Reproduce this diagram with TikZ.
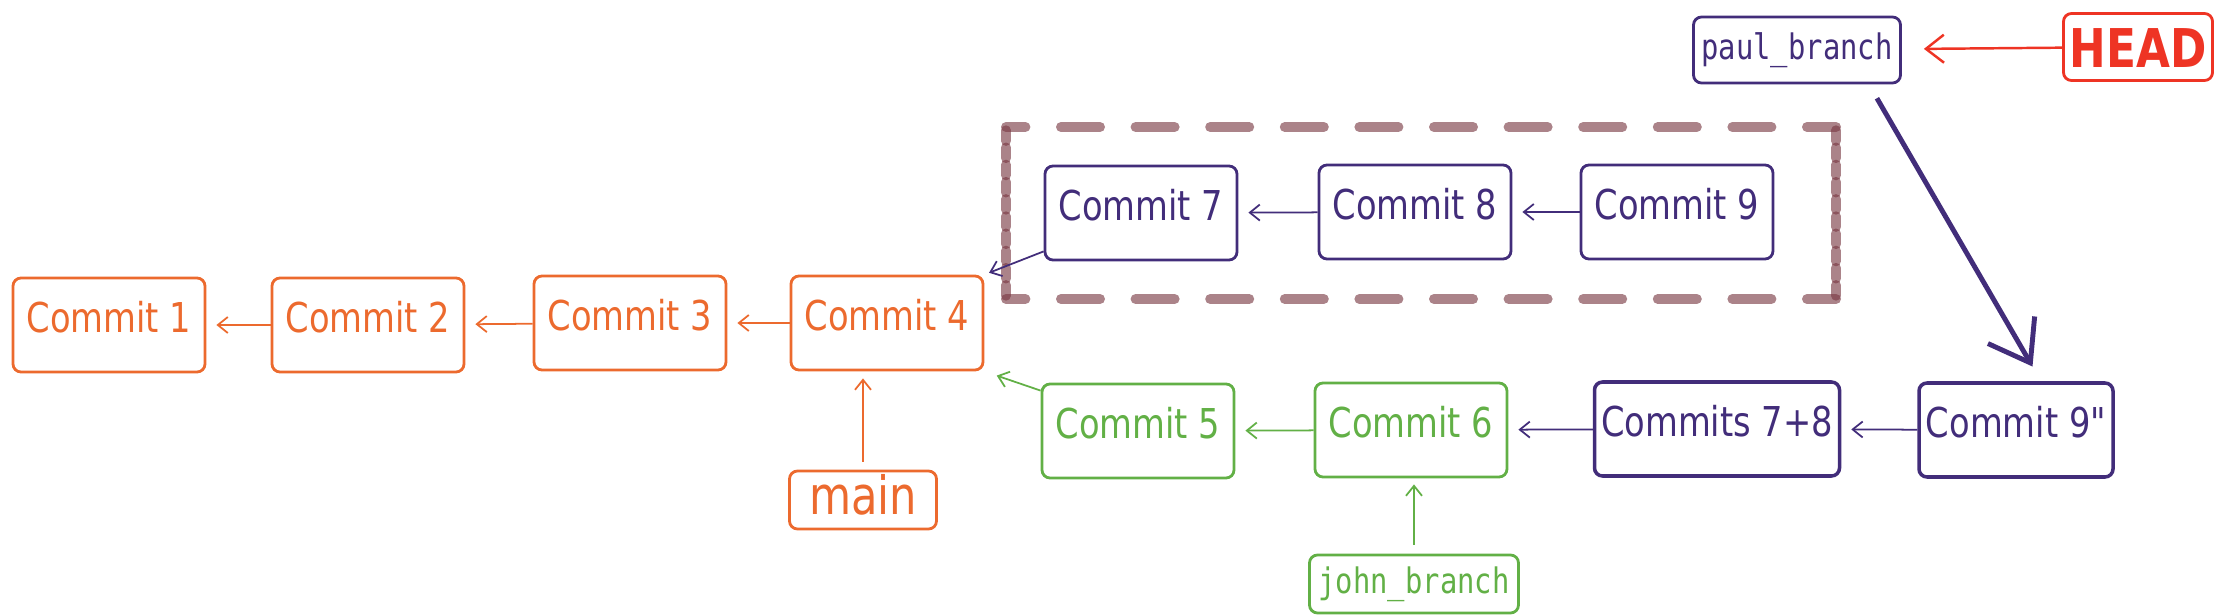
\documentclass[tikz,border=0pt]{standalone}
\usepackage{fontspec}
\newfontfamily\gitfont{DejaVu Sans}[FakeStretch=0.82]
\newfontfamily\branchfont{DejaVu Sans Mono}[FakeStretch=0.82]
\usepackage{xcolor}
\usetikzlibrary{arrows.meta, calc}
\definecolor{gitorange}{RGB}{236,106,46}
\definecolor{gitgreen}{RGB}{98,176,70}
\definecolor{gitpurple}{RGB}{66,45,122}
\definecolor{gitred}{RGB}{238,52,36}
\definecolor{framebrown}{RGB}{120,55,65}

\begin{document}
\begin{tikzpicture}[
  tag/.style={draw, rounded corners=0.8mm, line width=0.8pt, inner sep=0pt},
  commit/.style={tag, minimum width=1.92cm, minimum height=0.94cm,
                 text height=0.30cm, text depth=0.16cm, font=\gitfont\fontsize{11.7}{14}\selectfont},
  branch/.style={tag, minimum width=2.08cm, minimum height=0.62cm,
                 font=\branchfont\fontsize{10}{12}\selectfont},
  link/.style={-{Straight Barb[length=1mm, width=1.6mm]}, line width=0.5pt, shorten >=1mm},
  frameline/.style={line width=0.1cm, draw=framebrown, opacity=0.62, line cap=round}
]
  \useasboundingbox (0,0) rectangle (22.19,-6.15);
  \draw[frameline, dash pattern=on 0.39cm off 0.356cm, dash phase=0.196cm] (10.06,-1.27) -- (18.36,-1.27);
  \draw[frameline, dash pattern=on 0.39cm off 0.356cm, dash phase=0.196cm] (10.06,-2.99) -- (18.36,-2.99);
  \foreach \k in {0,...,9} {
    \draw[frameline] (10.06,{-1.303-0.172*\k}) -- ++(0,-0.106);
    \draw[frameline] (18.36,{-1.303-0.172*\k}) -- ++(0,-0.106);
  }
  \node[commit, gitorange] (c1) at (1.09,-3.25) {Commit 1};
  \node[commit, gitorange] (c2) at (3.68,-3.25) {Commit 2};
  \node[commit, gitorange] (c3) at (6.30,-3.23) {Commit 3};
  \node[commit, gitorange] (c4) at (8.87,-3.23) {Commit 4};
  \node[tag, gitorange, minimum width=1.47cm, minimum height=0.58cm, text height=8pt, text depth=0pt,
        font=\gitfont\fontsize{15}{18}\selectfont] (main) at (8.63,-5.00) {main};
  \node[commit, gitgreen] (c5) at (11.38,-4.31) {Commit 5};
  \node[commit, gitgreen] (c6) at (14.11,-4.30) {Commit 6};
  \node[branch, gitgreen, minimum width=2.09cm, minimum height=0.58cm] (john) at (14.14,-5.84) {john\_branch};
  \node[commit, gitpurple] (c7) at (11.41,-2.13) {Commit 7};
  \node[commit, gitpurple] (c8) at (14.15,-2.12) {Commit 8};
  \node[commit, gitpurple] (c9) at (16.77,-2.12) {Commit 9};
  \node[commit, gitpurple, minimum width=2.45cm, line width=1pt] (c78) at (17.17,-4.29) {Commits 7+8};
  \node[commit, gitpurple, minimum width=1.94cm, line width=1pt] (c9pp) at (20.16,-4.30) {Commit 9"};
  \node[branch, gitpurple, minimum width=2.07cm, minimum height=0.66cm] (paul) at (17.97,-0.50) {paul\_branch};
  \node[tag, gitred, minimum width=1.49cm, minimum height=0.67cm, text height=11.4pt, text depth=0pt,
        font=\gitfont\bfseries\fontsize{15.2}{18}\selectfont] (head) at (21.38,-0.47) {HEAD};
  \draw[link, gitorange] (c2) -- (c1);
  \draw[link, gitorange] (c3) -- (c2);
  \draw[link, gitorange] (c4) -- (c3);
  \draw[link, gitorange, shorten >=0.7mm, shorten <=0.8mm] (main) -- (main |- c4.south);
  \draw[link, gitpurple, shorten >=0.5mm] ([yshift=0.1cm]c7.south west) -- (c4.north east);
  \draw[link, gitgreen, shorten >=1.3mm] ([yshift=-0.08cm]c5.north west) -- (c4.south east);
  \draw[link, gitgreen] (c6) -- (c5);
  \draw[link, gitgreen, shorten >=0.6mm, shorten <=0.9mm] (john) -- (john |- c6.south);
  \draw[link, gitpurple] (c8) -- (c7);
  \draw[link, gitpurple] (c9) -- (c8);
  \draw[link, gitpurple] (c78) -- (c6);
  \draw[link, gitpurple] (c9pp) -- (c78);
  \draw[link, gitred, line width=0.7pt, -{Straight Barb[length=1.8mm, width=2.8mm]}, shorten >=2.2mm] (head) -- (paul);
  \draw[gitpurple, line width=1.4pt, -{Straight Barb[length=3.8mm, width=5.4mm]}, shorten <=1.6mm, shorten >=1.7mm]
    ([xshift=-0.33cm]paul.south east) -- ([xshift=0.25cm]c9pp.north);
\end{tikzpicture}
\end{document}
